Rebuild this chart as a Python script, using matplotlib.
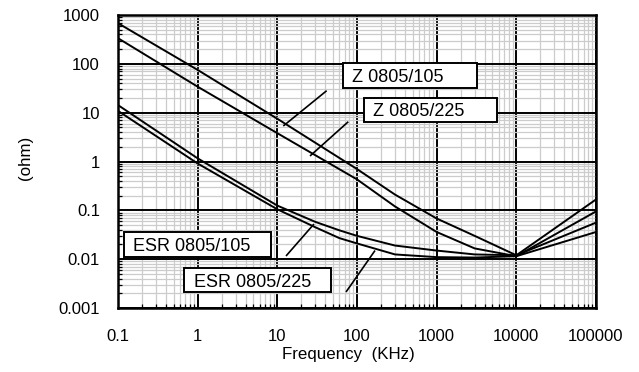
import matplotlib
matplotlib.use("Agg")
import matplotlib.pyplot as plt
from matplotlib.ticker import LogLocator, FixedLocator, NullFormatter
from matplotlib.patches import Rectangle
import numpy as np

plt.rcParams['font.family'] = ['Liberation Sans', 'DejaVu Sans']

# ---- data ----
freq_z = [0.1, 1, 10, 100, 300, 1000, 3000, 10000, 100000]
z_105 = [680, 75, 7.5, 0.70, 0.21, 0.068, 0.030, 0.012, 0.167]
z_225 = [335, 34, 3.8, 0.43, 0.12, 0.036, 0.0166, 0.0115, 0.095]

freq_esr = [0.1, 1, 10, 30, 60, 100, 300, 1000, 3000, 10000, 100000]
esr_105 = [14.3, 1.16, 0.125, 0.058, 0.039, 0.030, 0.019, 0.015, 0.0125, 0.012, 0.056]
esr_225 = [10.9, 0.91, 0.105, 0.045, 0.027, 0.021, 0.0125, 0.011, 0.0108, 0.0115, 0.036]

xticks = [0.1, 1, 10, 100, 1000, 10000, 100000]
xtick_labels = ["0.1", "1", "10", "100", "1000", "10000", "100000"]
yticks = [0.001, 0.01, 0.1, 1, 10, 100, 1000]
ytick_labels = ["0.001", "0.01", "0.1", "1", "10", "100", "1000"]

labels = ["Z 0805/105", "Z 0805/225", "ESR 0805/105", "ESR 0805/225"]
x_title = "Frequency  (KHz)"
y_title = "(ohm)"

# ---- figure ----
fig = plt.figure(figsize=(6.39, 3.72), dpi=100)
ax = fig.add_axes([118/639, 1-308/372, 478/639, 293/372])
ax.set_xscale('log')
ax.set_yscale('log')
ax.set_xlim(xticks[0], xticks[-1])
ax.set_ylim(yticks[0], yticks[-1])

ax.xaxis.set_major_locator(FixedLocator(xticks))
ax.yaxis.set_major_locator(FixedLocator(yticks))
ax.set_xticklabels(xtick_labels)
ax.set_yticklabels(ytick_labels)
ax.xaxis.set_minor_locator(LogLocator(base=10, subs=range(2, 10), numticks=20))
ax.yaxis.set_minor_locator(LogLocator(base=10, subs=range(2, 10), numticks=20))
ax.xaxis.set_minor_formatter(NullFormatter())
ax.yaxis.set_minor_formatter(NullFormatter())

ax.grid(which='minor', color='#cccccc', lw=0.9, zorder=0)
ax.grid(which='major', color='black', lw=1.4, zorder=1)
ax.set_axisbelow(True)

ax.tick_params(which='major', length=0, labelsize=12)
ax.tick_params(axis='x', which='major', pad=15)
ax.tick_params(axis='y', which='major', pad=13)
ax.tick_params(which='minor', direction='in', length=3, width=0.9, color='black',
               top=False, right=False)
for s in ax.spines.values():
    s.set_linewidth(1.8)
    s.set_zorder(5)

lw = 1.4
ax.plot(freq_z, z_105, color='black', lw=lw, zorder=3)
ax.plot(freq_z, z_225, color='black', lw=lw, zorder=3)
ax.plot(freq_esr, esr_105, color='black', lw=lw, zorder=3)
ax.plot(freq_esr, esr_225, color='black', lw=lw, zorder=3)

# label boxes (axes fraction): left, bottom, right, top, text-left
boxes = [
    (0.470, 0.752, 0.7517, 0.835, 0.489),
    (0.5153, 0.6359, 0.7935, 0.7177, 0.534),
    (0.01255, 0.173, 0.3195, 0.2604, 0.032),
    (0.138, 0.0556, 0.445, 0.1355, 0.159),
]
leaders = [
    ((0.3458, 0.6212), (0.4365, 0.7416)),
    ((0.4017, 0.5188), (0.4818, 0.6358)),
    ((0.3515, 0.1775), (0.4100, 0.2867)),
    ((0.4770, 0.0546), (0.5377, 0.1962)),
]
for (l, b, r, t, tx), lab, (p0, p1) in zip(boxes, labels, leaders):
    ax.plot([p0[0], p1[0]], [p0[1], p1[1]], color='black', lw=1.2,
            transform=ax.transAxes, zorder=4, solid_capstyle='butt')
    ax.add_patch(Rectangle((l, b), r - l, t - b, transform=ax.transAxes,
                           facecolor='white', edgecolor='black', lw=1.4, zorder=6))
    ax.text(tx, (b + t) / 2, lab, transform=ax.transAxes, fontsize=13,
            ha='left', va='center_baseline', zorder=7)

fig.text(348.5/639, 1-354/372, x_title, ha='center', va='center', fontsize=12.2)
fig.text(25/639, 1-158/372, y_title, ha='center', va='center', rotation=90, fontsize=12.2)

fig.savefig("out.png", dpi=100)
